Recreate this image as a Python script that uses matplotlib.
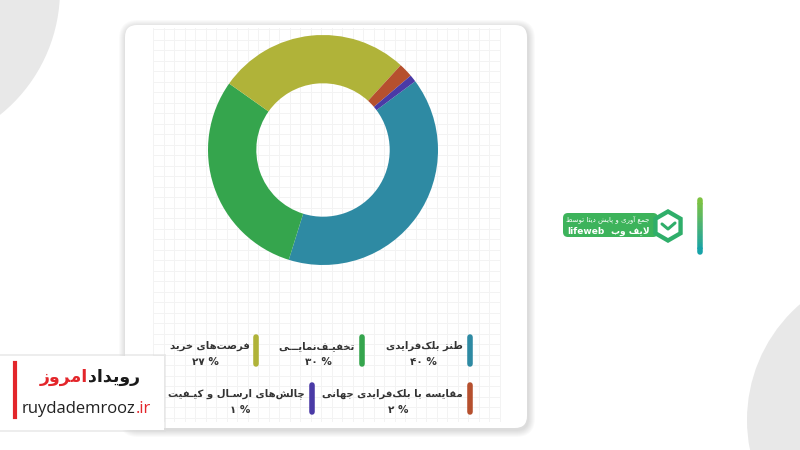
import matplotlib
matplotlib.use("Agg")
import matplotlib.pyplot as plt
from matplotlib.patches import FancyBboxPatch, Circle, Polygon, Rectangle
import numpy as np

# chart data
labels = ["طنز بلک‌فرایدی", "تخفیـف‌نمایـــی", "فرصت‌های خرید",
          "مقایسه با بلک‌فرایدی جهانی", "چالش‌های ارسـال و کیـفیت"]
values = [40, 30, 27, 2, 1]
pct_labels = ["۴۰ %", "۳۰ %", "۲۷ %", "۲ %", "۱ %"]
colors = ["#2e8aa3", "#35a54d", "#b0b339", "#b6502e", "#4a3aa6"]

# arabic presentation forms: isolated, final, initial, medial
FORMS = {
    'ا': (0xFE8D, 0xFE8E, None, None), 'آ': (0xFE81, 0xFE82, None, None),
    'ب': (0xFE8F, 0xFE90, 0xFE91, 0xFE92), 'پ': (0xFB56, 0xFB57, 0xFB58, 0xFB59),
    'ت': (0xFE95, 0xFE96, 0xFE97, 0xFE98), 'ث': (0xFE99, 0xFE9A, 0xFE9B, 0xFE9C),
    'ج': (0xFE9D, 0xFE9E, 0xFE9F, 0xFEA0), 'چ': (0xFB7A, 0xFB7B, 0xFB7C, 0xFB7D),
    'ح': (0xFEA1, 0xFEA2, 0xFEA3, 0xFEA4), 'خ': (0xFEA5, 0xFEA6, 0xFEA7, 0xFEA8),
    'د': (0xFEA9, 0xFEAA, None, None), 'ذ': (0xFEAB, 0xFEAC, None, None),
    'ر': (0xFEAD, 0xFEAE, None, None), 'ز': (0xFEAF, 0xFEB0, None, None),
    'ژ': (0xFB8A, 0xFB8B, None, None),
    'س': (0xFEB1, 0xFEB2, 0xFEB3, 0xFEB4), 'ش': (0xFEB5, 0xFEB6, 0xFEB7, 0xFEB8),
    'ص': (0xFEB9, 0xFEBA, 0xFEBB, 0xFEBC), 'ض': (0xFEBD, 0xFEBE, 0xFEBF, 0xFEC0),
    'ط': (0xFEC1, 0xFEC2, 0xFEC3, 0xFEC4), 'ظ': (0xFEC5, 0xFEC6, 0xFEC7, 0xFEC8),
    'ع': (0xFEC9, 0xFECA, 0xFECB, 0xFECC), 'غ': (0xFECD, 0xFECE, 0xFECF, 0xFED0),
    'ف': (0xFED1, 0xFED2, 0xFED3, 0xFED4), 'ق': (0xFED5, 0xFED6, 0xFED7, 0xFED8),
    'ک': (0xFB8E, 0xFB8F, 0xFB90, 0xFB91), 'گ': (0xFB92, 0xFB93, 0xFB94, 0xFB95),
    'ل': (0xFEDD, 0xFEDE, 0xFEDF, 0xFEE0), 'م': (0xFEE1, 0xFEE2, 0xFEE3, 0xFEE4),
    'ن': (0xFEE5, 0xFEE6, 0xFEE7, 0xFEE8), 'ه': (0xFEE9, 0xFEEA, 0xFEEB, 0xFEEC),
    'و': (0xFEED, 0xFEEE, None, None), 'ی': (0xFBFC, 0xFBFD, 0xFBFE, 0xFBFF),
}
TATWEEL = 'ـ'


def is_dual(c):
    return c == TATWEEL or (c in FORMS and FORMS[c][2] is not None)


def joins(c):
    return c == TATWEEL or c in FORMS


def shape(text):
    # join letters and flip to visual order (no bidi lib available)
    out = []
    i, n = 0, len(text)
    while i < n:
        c = text[i]
        prev = text[i - 1] if i > 0 else None
        nxt = text[i + 1] if i + 1 < n else None
        if c == '\u200c':
            i += 1
            continue
        if c == 'ل' and nxt == 'ا':
            out.append(chr(0xFEFC if prev and is_dual(prev) else 0xFEFB))
            i += 2
            continue
        if c not in FORMS:
            out.append(c)
            i += 1
            continue
        jp = prev is not None and is_dual(prev)
        jn = is_dual(c) and nxt is not None and joins(nxt)
        iso, fin, ini, med = FORMS[c]
        g = med if (jp and jn) else fin if jp else ini if jn else iso
        out.append(chr(g))
        i += 1
    return ''.join(reversed(out))


fig = plt.figure(figsize=(8, 4.5), dpi=100)
fig.patch.set_facecolor('white')
bg = fig.add_axes([0, 0, 1, 1])
bg.set_xlim(0, 800)
bg.set_ylim(450, 0)
bg.axis('off')

# background blobs
bg.add_patch(Circle((-100, -10), 160, fc='#e8e8e8', ec='none'))
bg.add_patch(Circle((900, 420), 153, fc='#e8e8e8', ec='none'))

# card with soft shadow
for k in range(7, 0, -1):
    bg.add_patch(FancyBboxPatch((125 - k + 1, 25 - k + 2), 402 + 2 * k, 403 + 2 * k,
                                boxstyle=f"round,pad=0,rounding_size={12 + k}",
                                fc='black', ec='none', alpha=0.018))
bg.add_patch(FancyBboxPatch((125, 25), 402, 403, boxstyle="round,pad=0,rounding_size=12",
                            fc='white', ec='none'))

# paper grid
for gx in np.arange(153, 501, 10.5):
    bg.plot([gx, gx], [28, 421], color='#f3f3f3', lw=0.7, zorder=1)
for gy in np.arange(29, 422, 10.5):
    bg.plot([153, 500], [gy, gy], color='#f3f3f3', lw=0.7, zorder=1)

# donut
ax = fig.add_axes([208 / 800, (450 - 265) / 450, 230 / 800, 230 / 450])
ax.pie(values, colors=colors, startangle=36.7, counterclock=False,
       wedgeprops=dict(width=0.42, edgecolor='none'))
ax.set_xlim(-1, 1)
ax.set_ylim(-1, 1)
ax.set_facecolor('none')

# legend: bar x, bar top, title right edge, percent centre, title y
leg_pos = [(470, 337, 463, 423, 346), (362, 337, 355, 318, 346), (256, 337, 250, 205, 346),
           (470, 385, 463, 398, 394), (312, 385, 305, 240, 394)]
for lab, pct, col, (bx, by, tx, px, ty) in zip(labels, pct_labels, colors, leg_pos):
    bg.plot([bx, bx], [by, by + 27], color=col, lw=4, solid_capstyle='round', zorder=3)
    bg.text(tx, ty, shape(lab), ha='right', va='center', fontsize=7.3,
            fontweight='bold', color='#333333', family='DejaVu Sans', zorder=3)
    bg.text(px, ty + 16, pct, ha='center', va='center', fontsize=7.5,
            fontweight='bold', color='#333333', family='DejaVu Sans', zorder=3)

# site logo box bottom-left
bg.add_patch(Rectangle((-10, 354), 176, 78, fc='#dddddd', ec='none', alpha=0.5, zorder=4))
bg.add_patch(Rectangle((-10, 356), 174, 74, fc='white', ec='none', zorder=4))
bg.plot([15, 15], [363, 417], color='#e3262b', lw=3, zorder=5)
bg.text(88, 377, shape("امروز"), ha='right', va='center', fontsize=12.5, fontweight='bold',
        color='#e3262b', family='DejaVu Sans', zorder=5)
bg.text(88, 377, shape("رویداد"), ha='left', va='center', fontsize=12.5, fontweight='bold',
        color='#1a1a1a', family='DejaVu Sans', zorder=5)
t = bg.text(22, 417, "ruydademrooz", ha='left', va='bottom', fontsize=12,
            color='#222222', family='Open Sans', zorder=5)
bg.annotate(".ir", xy=(1, 0), xycoords=t, ha='left', va='bottom', fontsize=12,
            color='#e3262b', family='Open Sans', zorder=5)

# lifeweb badge
bg.add_patch(FancyBboxPatch((563, 213), 95, 24, boxstyle="round,pad=0,rounding_size=5",
                            fc='#3db35b', ec='none', zorder=3))
ang = np.radians(np.arange(90, 450, 60))
hx, hy = 668, 226
bg.add_patch(Polygon(np.c_[hx + 17 * np.cos(ang), hy + 17 * np.sin(ang)], closed=True,
                     fc='#2fae6a', ec='none', zorder=4))
bg.add_patch(Polygon(np.c_[hx + 12 * np.cos(ang), hy + 12 * np.sin(ang)], closed=True,
                     fc='white', ec='none', zorder=5))
bg.plot([662, 668, 675], [224, 229, 223], color='#2fae6a', lw=2.2, solid_capstyle='round',
        solid_joinstyle='round', zorder=6)
bg.text(650, 219, shape("جمع آوری و پایش دیتا توسط"), ha='right', va='center', fontsize=5,
        color='white', family='DejaVu Sans', zorder=5)
bg.text(650, 231, shape("لایف وب"), ha='right', va='center', fontsize=6.5, fontweight='bold',
        color='white', family='DejaVu Sans', zorder=5)
bg.text(567, 231, "lifeweb", ha='left', va='center', fontsize=6.5, fontweight='bold',
        color='white', family='DejaVu Sans', zorder=5)
grad = np.linspace(0, 1, 20)
seg_y = np.linspace(200, 252, 21)
for k, f in enumerate(grad):
    c = (0.49 * (1 - f) + 0.09 * f, 0.76 * (1 - f) + 0.64 * f, 0.26 * (1 - f) + 0.66 * f)
    bg.plot([700, 700], [seg_y[k], seg_y[k + 1]], color=c, lw=4,
            solid_capstyle='round' if k in (0, 19) else 'butt', zorder=3)

fig.savefig("out.png", dpi=100)
